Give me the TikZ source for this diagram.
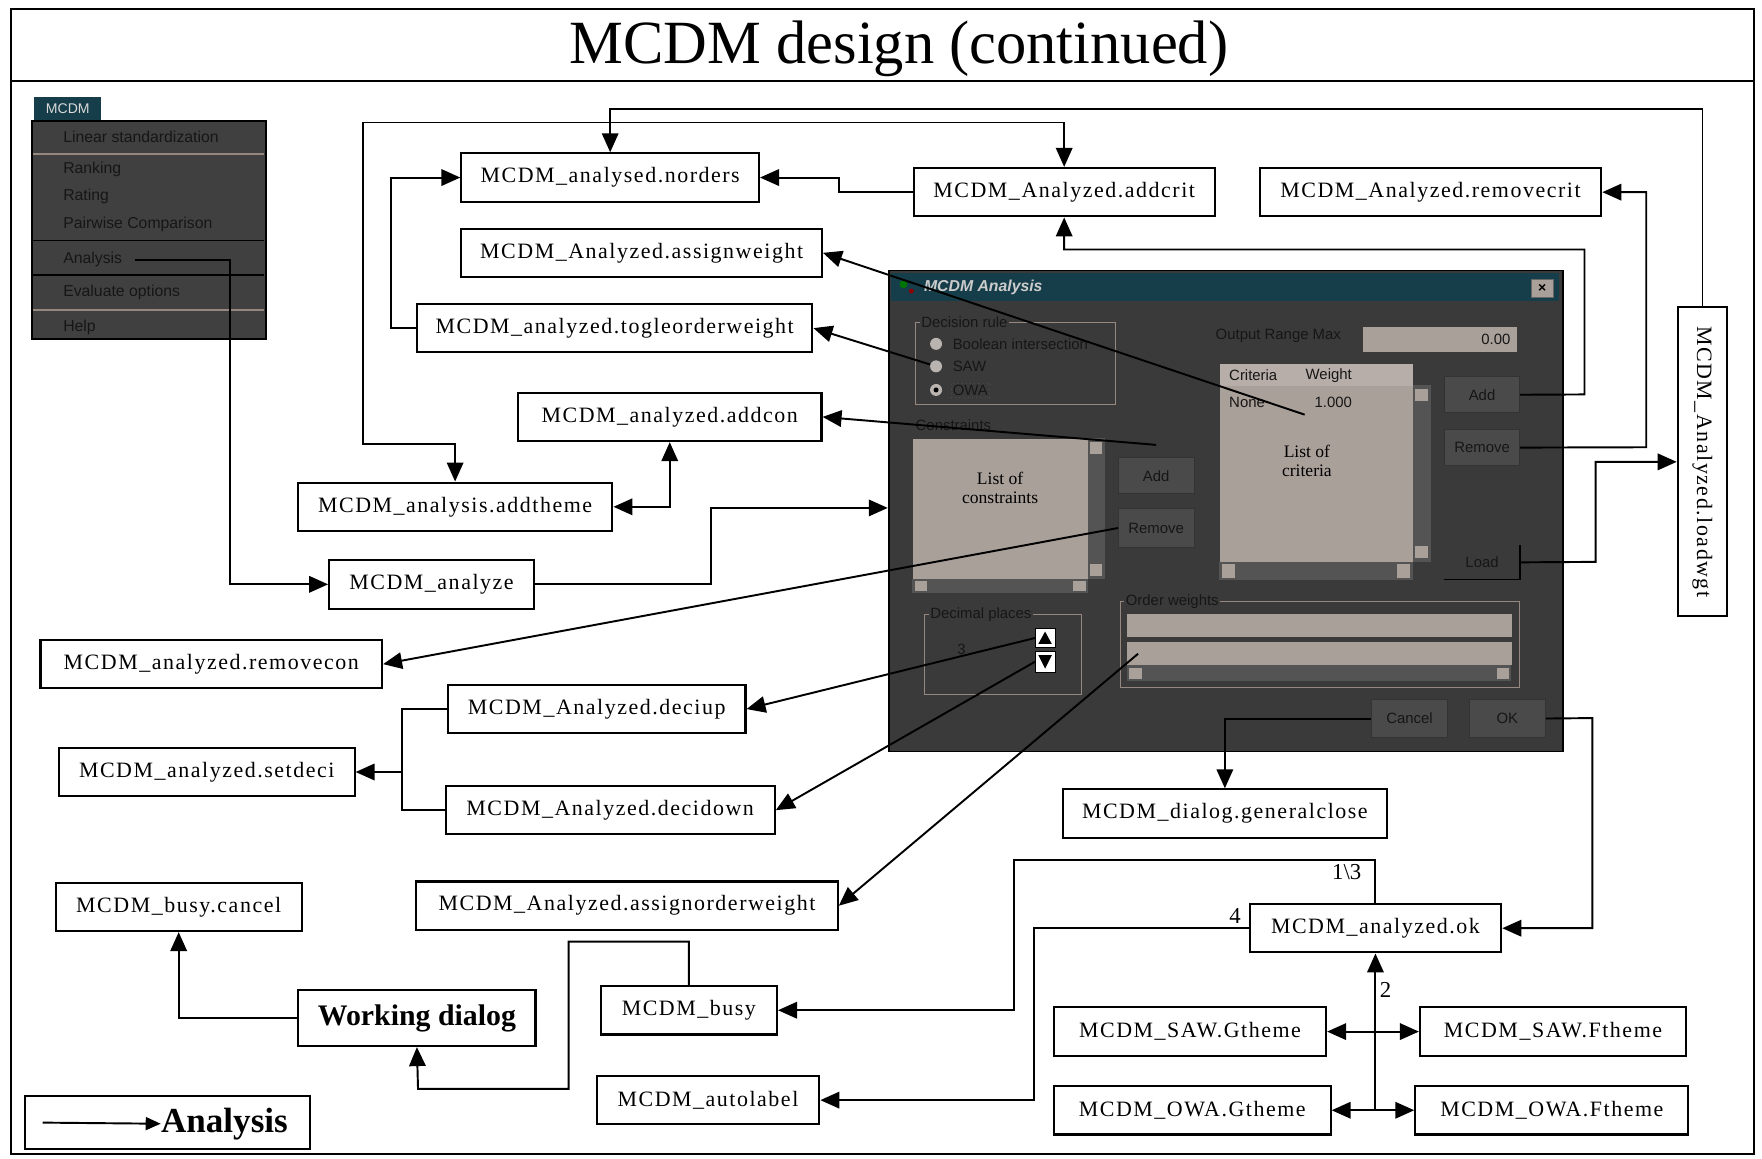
\documentclass[tikz,border=0pt]{standalone}
\usepackage{fontspec}
\setmainfont{Liberation Serif}
\setsansfont{Liberation Sans}
\newfontfamily\boxfont[LetterSpace=7]{Liberation Serif}
\usetikzlibrary{arrows.meta}
\definecolor{cfondmenu}{RGB}{64,64,64}
\definecolor{cfonddlg}{RGB}{58,58,58}
\definecolor{cbleu}{RGB}{22,62,74}
\definecolor{cchamp}{RGB}{170,160,154}
\definecolor{cbouton}{RGB}{74,74,74}
\definecolor{ctexte}{RGB}{22,22,22}
\definecolor{ctrait}{RGB}{150,136,126}
\definecolor{cascenseur}{RGB}{84,84,84}
\definecolor{cradio}{RGB}{185,180,175}
\tikzstyle{boite} = [rectangle, draw=black, line width=1.2pt, fill=white, minimum height=0.97cm, font=\boxfont\fontsize{12.5}{15}\selectfont]
\tikzstyle{fleche} = [line width=1.1pt, -{Triangle[length=3.8mm, width=3.3mm]}]
\tikzstyle{doublefleche} = [line width=1.1pt, {Triangle[length=3.8mm, width=3.3mm]}-{Triangle[length=3.8mm, width=3.3mm]}]
\tikzstyle{bouton} = [rectangle, draw=black!80, fill=cbouton, anchor=north west, inner sep=0pt, text=ctexte, font=\sffamily\fontsize{8.5}{10}\selectfont]
\tikzstyle{champ} = [rectangle, fill=cchamp, anchor=north west, inner sep=0pt]
\tikzstyle{etiquette} = [anchor=west, inner sep=1pt, text=ctexte, font=\sffamily\fontsize{8.5}{10}\selectfont]
\tikzstyle{radio} = [circle, fill=cradio, inner sep=0pt, minimum size=0.24cm]
\tikzstyle{menuitem} = [anchor=west, inner sep=0pt, text=ctexte, font=\sffamily\fontsize{9}{10}\selectfont]

\begin{document}
\begin{tikzpicture}[x=0.0225cm, y=-0.0225cm]

        \useasboundingbox (0,0) rectangle (1568,1031);
        \fill[white] (0,0) rectangle (1568,1031);
        \draw[line width=1.4pt] (10,8) rectangle (1561,1027);
        \draw[line width=1.4pt] (10,72) -- (1561,72);
        \node (titre) at (800,43) {\scalebox{0.985}[1]{\fontsize{35}{40}\selectfont MCDM design (continued)}};

        \node (menu) [fill=cfondmenu, draw=black, line width=0.8pt, anchor=north west, minimum width=4.68cm, minimum height=4.37cm] at (28,107) {};
        \node (menutab) [fill=cbleu, anchor=north west, minimum width=1.35cm, minimum height=0.47cm, inner sep=0pt, text=white!85!black, font=\sffamily\fontsize{8}{9}\selectfont] at (30,86) {MCDM};
        \draw[ctrait, line width=1pt] (29,137) -- (235,137);
        \draw[black, line width=1pt] (29,214) -- (235,214);
        \draw[black, line width=1pt] (29,245) -- (235,245);
        \draw[ctrait, line width=1pt] (29,276) -- (235,276);
        \node (mLinear) [menuitem] at (56,122) {Linear standardization};
        \node (mRanking) [menuitem] at (56,151) {Ranking};
        \node (mRating) [menuitem] at (56,175) {Rating};
        \node (mPairwise) [menuitem] at (56,200) {Pairwise Comparison};
        \node (mAnalysis) [menuitem] at (56,231) {Analysis};
        \node (mEvaluate) [menuitem] at (56,260) {Evaluate options};
        \node (mHelp) [menuitem] at (56,291) {Help};

        \node (dlg) [fill=cfonddlg, draw=black, line width=1pt, anchor=north west, minimum width=13.5cm, minimum height=9.63cm] at (790,240) {};
        \node (dlgbar) [fill=cbleu, anchor=north west, minimum width=13.37cm, minimum height=0.56cm, inner sep=0pt] at (793,243) {};
        \fill[green!45!black] (804,253) circle (0.08cm);
        \fill[red!55!black] (811,259) circle (0.05cm);
        \node (dlgtitre) [anchor=west, inner sep=0pt, text=white!80!black, font=\sffamily\bfseries\itshape\fontsize{9}{10}\selectfont] at (822,256) {MCDM Analysis};
        \node (fermer) [fill=cchamp, draw=black!60, anchor=north west, minimum width=0.45cm, minimum height=0.36cm, inner sep=0pt, font=\sffamily\bfseries\fontsize{8}{8}\selectfont] at (1362,248) {×};

        \draw[ctrait, line width=0.6pt] (815,287) rectangle (993,360);
        \node (lblRule) [etiquette, fill=cfonddlg] at (818,287) {Decision rule};
        \node (rBool) [radio] at (833,306) {};
        \node (rSAW) [radio] at (833,326) {};
        \node (rOWA) [radio] at (833,347) {};
        \fill[black] (rOWA) circle (0.05cm);
        \node (lBool) [etiquette] at (846,306) {Boolean intersection};
        \node (lSAW) [etiquette] at (846,326) {SAW};
        \node (lOWA) [etiquette, draw=black!70, dotted] at (846,347) {OWA};

        \node (lblRange) [etiquette] at (1080,299) {Output Range Max};
        \node (range) [champ, minimum width=3.08cm, minimum height=0.5cm] at (1213,291) {};
        \node (rangeval) [etiquette, anchor=east] at (1346,302) {0.00};

        \node (crithead) [champ, fill=cchamp!85!white, minimum width=3.87cm, minimum height=0.43cm] at (1085,324) {};
        \node (hCrit) [etiquette] at (1092,334) {Criteria};
        \node (hWeight) [etiquette] at (1160,334) {Weight};
        \node (critlist) [champ, minimum width=3.87cm, minimum height=3.53cm] at (1085,343) {};
        \node (cNone) [etiquette] at (1092,358) {None};
        \node (cVal) [etiquette] at (1168,358) {1.000};
        \node (critlabel) [align=center, font=\fontsize{10}{11}\selectfont] at (1163,410) {List of\\criteria};
        \fill[cascenseur] (1257,343) rectangle (1273,500);
        \fill[cchamp] (1259,346) rectangle (1271,357);
        \fill[cchamp] (1259,486) rectangle (1271,497);
        \fill[cascenseur] (1085,500) rectangle (1257,516);
        \fill[cchamp] (1087,502) rectangle (1099,514);
        \fill[cchamp] (1243,502) rectangle (1255,514);

        \node (critadd) [bouton, minimum width=1.51cm, minimum height=0.72cm] at (1285,335) {Add};
        \node (critremove) [bouton, minimum width=1.51cm, minimum height=0.72cm] at (1285,382) {Remove};
        \node (critload) [bouton, draw=none, fill=none, minimum width=1.51cm, minimum height=0.68cm] at (1285,485) {Load};
        \draw[black, line width=0.8pt] (critload.north east) -- (critload.south east) -- (critload.south west);

        \node (lblCons) [etiquette] at (813,378) {Constraints};
        \node (conlist) [champ, minimum width=3.51cm, minimum height=2.81cm] at (812,390) {};
        \node (conlabel) [align=center, font=\fontsize{10}{11}\selectfont] at (890,434) {List of\\constraints};
        \fill[cascenseur] (968,390) rectangle (983,515);
        \fill[cchamp] (970,393) rectangle (981,404);
        \fill[cchamp] (970,502) rectangle (981,513);
        \fill[cascenseur] (812,515) rectangle (968,528);
        \fill[cchamp] (814,517) rectangle (825,526);
        \fill[cchamp] (955,517) rectangle (966,526);
        \node (conadd) [bouton, minimum width=1.51cm, minimum height=0.72cm] at (995,407) {Add};
        \node (conremove) [bouton, minimum width=1.51cm, minimum height=0.79cm] at (995,452) {Remove};

        \draw[ctrait, line width=0.6pt] (823,547) rectangle (962,618);
        \node (lblDeci) [etiquette, fill=cfonddlg] at (826,547) {Decimal places};
        \node (deciVal) [etiquette] at (850,578) {3};
        \node (spinup) [champ, fill=white, draw=black, minimum width=0.41cm, minimum height=0.38cm] at (921,559) {};
        \node (spindown) [champ, fill=white, draw=black, minimum width=0.41cm, minimum height=0.43cm] at (921,579) {};
        \fill[black] (924,573) -- (936,573) -- (930,562) -- cycle;
        \fill[black] (924,583) -- (936,583) -- (930,595) -- cycle;

        \draw[ctrait, line width=0.6pt] (997,535) rectangle (1352,612);
        \node (lblOrd) [etiquette, fill=cfonddlg] at (1000,535) {Order weights};
        \node (ordA) [champ, minimum width=7.7cm, minimum height=0.47cm] at (1003,546) {};
        \node (ordB) [champ, minimum width=7.7cm, minimum height=0.47cm] at (1003,571) {};
        \fill[cascenseur] (1003,592) rectangle (1345,606);
        \fill[cchamp] (1005,594) rectangle (1016,604);
        \fill[cchamp] (1332,594) rectangle (1343,604);

        \node (cancelbtn) [bouton, minimum width=1.53cm, minimum height=0.77cm] at (1220,622) {Cancel};
        \node (okbtn) [bouton, minimum width=1.53cm, minimum height=0.77cm] at (1307,622) {OK};

        \node (norders) [boite, minimum width=5.96cm] at (543,158) {MCDM\_analysed.norders};
        \node (addcrit) [boite, minimum width=6.03cm] at (947,171) {MCDM\_Analyzed.addcrit};
        \node (removecrit) [boite, minimum width=6.84cm] at (1273,171) {MCDM\_Analyzed.removecrit};
        \node (assignweight) [boite, minimum width=7.22cm] at (571,225) {MCDM\_Analyzed.assignweight};
        \node (togle) [boite, minimum width=7.92cm] at (547,292) {MCDM\_analyzed.togleorderweight};
        \node (addcon) [boite, minimum width=6.08cm] at (596,371) {MCDM\_analyzed.addcon};
        \node (addtheme) [boite, minimum width=6.3cm] at (405,451) {MCDM\_analysis.addtheme};
        \node (analyze) [boite, minimum width=4.1cm] at (384,520) {MCDM\_analyze};
        \node (removecon) [boite, minimum width=6.84cm] at (188,591) {MCDM\_analyzed.removecon};
        \node (deciup) [boite, minimum width=5.96cm] at (531,631) {MCDM\_Analyzed.deciup};
        \node (setdeci) [boite, minimum width=5.92cm] at (184,687) {MCDM\_analyzed.setdeci};
        \node (decidown) [boite, minimum width=6.59cm] at (543,721) {MCDM\_Analyzed.decidown};
        \node (generalclose) [boite, minimum width=6.48cm] at (1090,724) {MCDM\_dialog.generalclose};
        \node (busycancel) [boite, minimum width=4.93cm] at (159,807) {MCDM\_busy.cancel};
        \node (assignorderweight) [boite, minimum width=8.44cm] at (558,806) {MCDM\_Analyzed.assignorderweight};
        \node (ok) [boite, minimum width=5.04cm] at (1224,826) {MCDM\_analyzed.ok};
        \node (working) [boite, minimum width=4.75cm, minimum height=1.12cm, font=\bfseries\fontsize{17}{20}\selectfont] at (371,906) {Working dialog};
        \node (busy) [boite, minimum width=3.53cm] at (613,899) {MCDM\_busy};
        \node (sawg) [boite, minimum width=5.45cm] at (1059,918) {MCDM\_SAW.Gtheme};
        \node (sawf) [boite, minimum width=5.33cm] at (1382,918) {MCDM\_SAW.Ftheme};
        \node (autolabel) [boite, minimum width=4.46cm] at (630,979) {MCDM\_autolabel};
        \node (owag) [boite, minimum width=5.54cm] at (1061,988) {MCDM\_OWA.Gtheme};
        \node (owaf) [boite, minimum width=5.47cm] at (1381,988) {MCDM\_OWA.Ftheme};
        \node (loadwgt) [boite, minimum width=0.99cm, minimum height=6.19cm] at (1515,411) {\rotatebox{-90}{MCDM\_Analyzed.loadwgt}};

        \node (legende) [boite, minimum width=5.72cm, minimum height=1.06cm] at (149,999) {};
        \node (legtxt) [anchor=west, inner sep=0pt, font=\bfseries\fontsize{20}{22}\selectfont] at (143,1000) {Analysis};
        \coordinate (legdebut) at (38,999);
        \draw[line width=1.1pt, -{Triangle[length=3mm, width=2.6mm]}] (legdebut) -- (legtxt.west);

        \draw[fleche] ([xshift=0.25cm]mAnalysis.east) -- (205,231) |- (analyze.west);
        \draw[fleche] (analyze.east) -- (633,520) |- (dlg.west |- 0,452);
        \draw[doublefleche] (addtheme.east) -| (addcon.south);
        \draw[doublefleche] (addcrit.north) |- (323,109) |- (405,395) -- (addtheme.north);
        \draw[fleche] (loadwgt.north) |- (543,97) -- (norders.north);
        \draw[fleche] (togle.west) -- (348,292) |- (norders.west);
        \draw[fleche] (addcrit.west) -- (747,171) |- (norders.east);
        \draw[fleche] (critadd.east) -- (1410,351) |- (947,222) -- (addcrit.south);
        \draw[fleche] (critremove.east) -- (1465,398) |- (removecrit.east);
        \draw[fleche] (critload.east) -- (1420,500) |- (loadwgt.west);
        \coordinate (critpoint) at (1161,369);
        \draw[fleche] (critpoint) -- (assignweight.east);
        \draw[fleche] (rSAW) -- (togle.east);
        \draw[fleche] ([yshift=0.25cm]conadd.north) -- (addcon.east);
        \draw[fleche] (conremove.west) -- (removecon.east);
        \draw[fleche] (spinup.west) -- (deciup.east);
        \draw[fleche] (spindown.west) -- (decidown.east);
        \draw[fleche] ([xshift=0.22cm]ordB.west) -- (assignorderweight.east);
        \draw[line width=1.1pt] (deciup.west) -- (358,631) |- (decidown.west);
        \coordinate (decinoeud) at (358,687);
        \draw[fleche] (decinoeud) -- (setdeci.east);
        \draw[fleche] (cancelbtn.west) -| (generalclose.north);
        \draw[fleche] (okbtn.east) -- (1417,639) |- (ok.east);
        \draw[fleche] (ok.north) |- (902,765) |- (busy.east);
        \node (lab13) [anchor=east, font=\fontsize{13}{15}\selectfont] at (1217,776) {1\textbackslash 3};
        \draw[fleche] (ok.west) -- (920,826) |- (autolabel.east);
        \node (lab4) [font=\fontsize{13}{15}\selectfont] at (1099,815) {4};
        \draw[fleche] (busy.north) |- (506,838) |- (372,969) -- (working.south);
        \draw[fleche] (working.west) -| (busycancel.south);
        \draw[fleche] (ok.south |- owag.east) -- (ok.south);
        \node (lab2) [font=\fontsize{13}{15}\selectfont] at (1233,881) {2};
        \draw[doublefleche] (sawg.east) -- (sawf.west);
        \draw[doublefleche] (owag.east) -- (owaf.west);

\end{tikzpicture}
\end{document}
